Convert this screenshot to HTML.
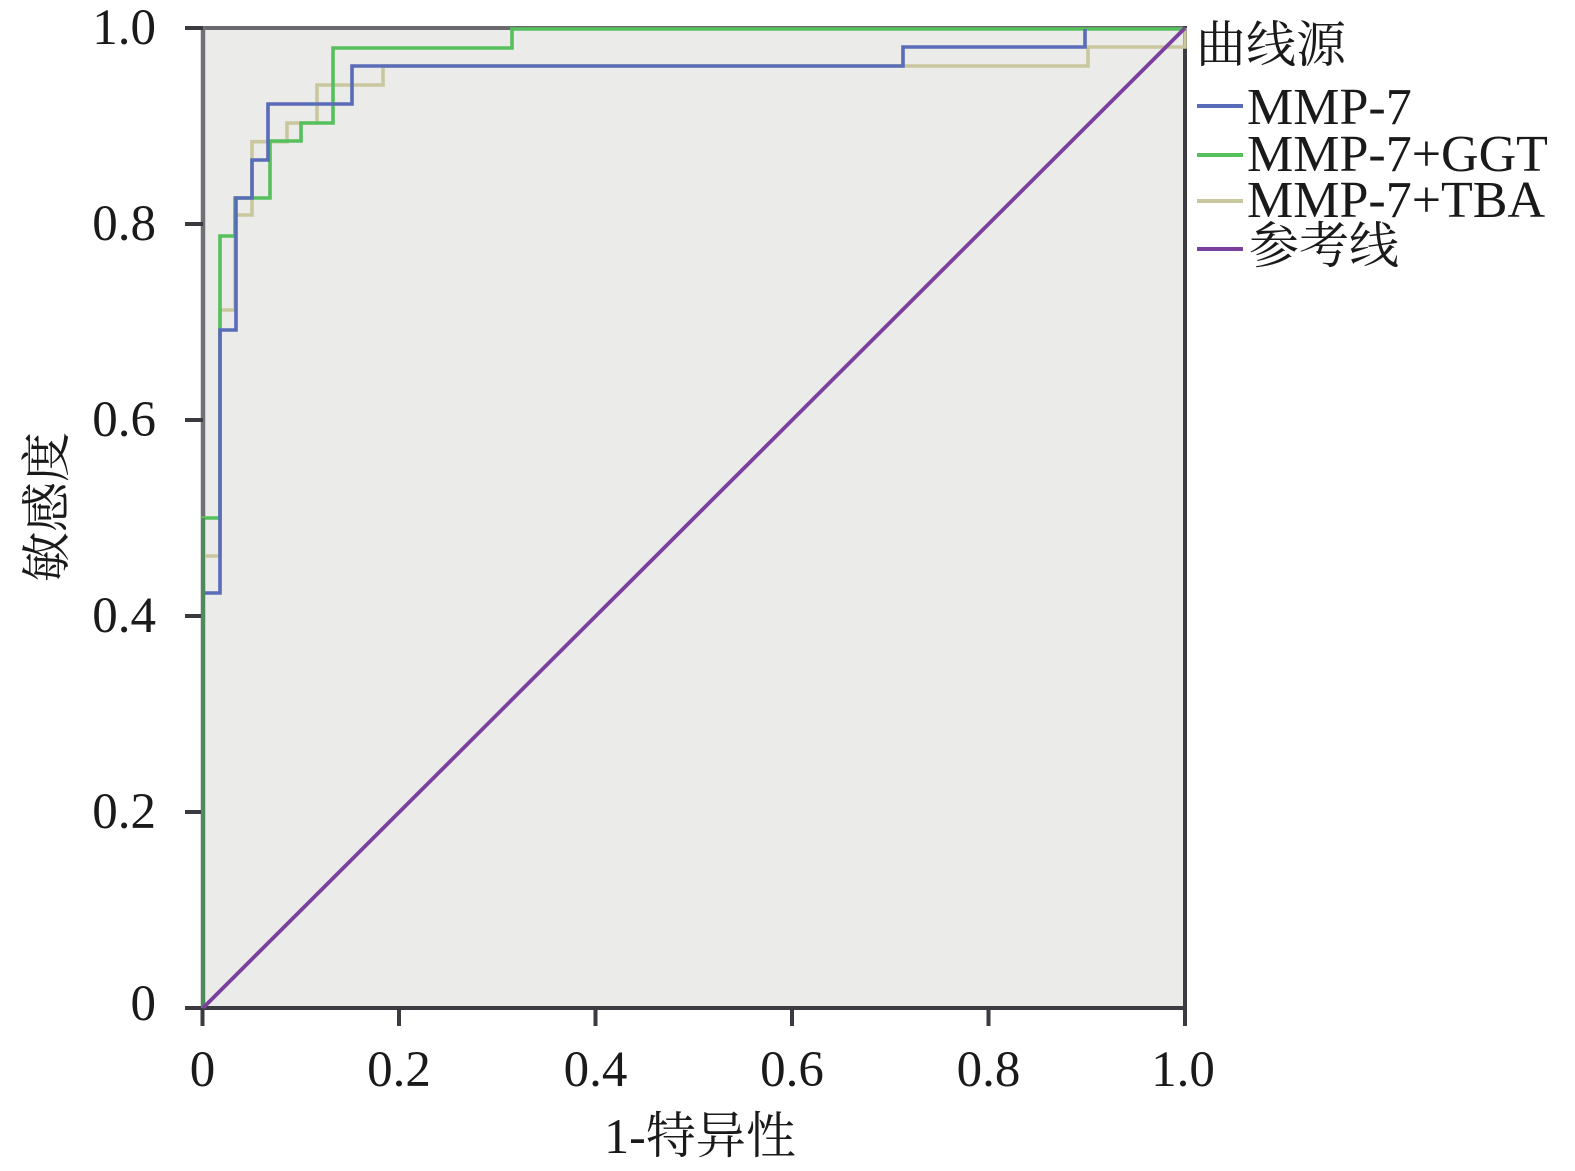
<!DOCTYPE html>
<html>
<head>
<meta charset="utf-8">
<style>
html,body{margin:0;padding:0;background:#fff;}
svg{display:block;}
.t{font-family:"Liberation Serif","Noto Serif CJK SC",serif;fill:#1a1a1a;}
</style>
</head>
<body>
<svg width="1575" height="1171" viewBox="0 0 1575 1171" xmlns="http://www.w3.org/2000/svg">
  <rect x="0" y="0" width="1575" height="1171" fill="#ffffff"/>
  <!-- plot background -->
  <rect x="203" y="28" width="982" height="980" fill="#ebebe9"/>
  <!-- frame -->
  <line x1="203" y1="28" x2="1185" y2="28" stroke="#6a6a6e" stroke-width="4"/>
  <line x1="1185" y1="26" x2="1185" y2="1010" stroke="#3c3c42" stroke-width="4"/>
  <line x1="203" y1="26" x2="203" y2="1010" stroke="#707076" stroke-width="4.5"/>
  <line x1="185" y1="1008" x2="1187" y2="1008" stroke="#3c3c42" stroke-width="4"/>
  <!-- y ticks -->
  <g stroke="#3a3a40" stroke-width="4">
    <line x1="185" y1="28" x2="203" y2="28"/>
    <line x1="185" y1="224" x2="203" y2="224"/>
    <line x1="185" y1="420" x2="203" y2="420"/>
    <line x1="185" y1="616" x2="203" y2="616"/>
    <line x1="185" y1="812" x2="203" y2="812"/>
    <line x1="185" y1="1008" x2="203" y2="1008"/>
  </g>
  <!-- x ticks -->
  <g stroke="#3a3a40" stroke-width="4">
    <line x1="202.5" y1="1008" x2="202.5" y2="1026"/>
    <line x1="399" y1="1008" x2="399" y2="1026"/>
    <line x1="595.5" y1="1008" x2="595.5" y2="1026"/>
    <line x1="792" y1="1008" x2="792" y2="1026"/>
    <line x1="988.5" y1="1008" x2="988.5" y2="1026"/>
    <line x1="1185" y1="1008" x2="1185" y2="1026"/>
  </g>
  <!-- curves -->
  <g fill="none" stroke-width="3.6" stroke-linejoin="miter">
    <path d="M203,1008 V556 H220 V310 H235 V215 H252 V141.7 H287 V123 H317 V85 H383 V66 H1088 V47 H1185 V28" stroke="#c9c79d"/>
    <path d="M203,1008 V518 H220 V236 H235 V198 H270 V141 H301 V123 H333 V48 H512 V29 H1185" stroke="#55c05c"/>
    <path d="M203,593 H220 V330 H236 V198 H252 V160 H268 V104 H352 V66 H903 V47 H1085 V29" stroke="#5a6cb8"/>
    <path d="M203,1008 V518" stroke="#4f8a5c" stroke-width="4"/>
    <line x1="203" y1="1008" x2="1185" y2="28" stroke="#7b3f9e" stroke-width="3.8"/>
  </g>
  <!-- y tick labels -->
  <g class="t" font-size="51" text-anchor="end">
    <text x="156" y="44">1.0</text>
    <text x="156" y="240">0.8</text>
    <text x="156" y="436">0.6</text>
    <text x="156" y="632">0.4</text>
    <text x="156" y="828">0.2</text>
    <text x="156" y="1020">0</text>
  </g>
  <!-- x tick labels -->
  <g class="t" font-size="51" text-anchor="middle">
    <text x="202.5" y="1086">0</text>
    <text x="399" y="1086">0.2</text>
    <text x="595.5" y="1086">0.4</text>
    <text x="792" y="1086">0.6</text>
    <text x="988.5" y="1086">0.8</text>
    <text x="1183" y="1086">1.0</text>
  </g>
  <!-- axis titles -->
  <text class="t" font-size="50" x="700" y="1153" text-anchor="middle">1-特异性</text>
  <text class="t" font-size="50" x="0" y="0" text-anchor="middle" transform="translate(64,507) rotate(-90)">敏感度</text>
  <!-- legend -->
  <text class="t" font-size="50" x="1196" y="62">曲线源</text>
  <g stroke-width="4">
    <line x1="1197" y1="106" x2="1243" y2="106" stroke="#5a6cb8"/>
    <line x1="1197" y1="155" x2="1243" y2="155" stroke="#55c05c"/>
    <line x1="1197" y1="201" x2="1243" y2="201" stroke="#c9c79d"/>
    <line x1="1197" y1="249" x2="1243" y2="249" stroke="#7b3f9e"/>
  </g>
  <g class="t" font-size="52">
    <text x="1247" y="124">MMP-7</text>
    <text x="1247" y="171">MMP-7+GGT</text>
    <text x="1247" y="217">MMP-7+TBA</text>
    <text x="1249" y="263" font-size="50">参考线</text>
  </g>
</svg>
</body>
</html>
